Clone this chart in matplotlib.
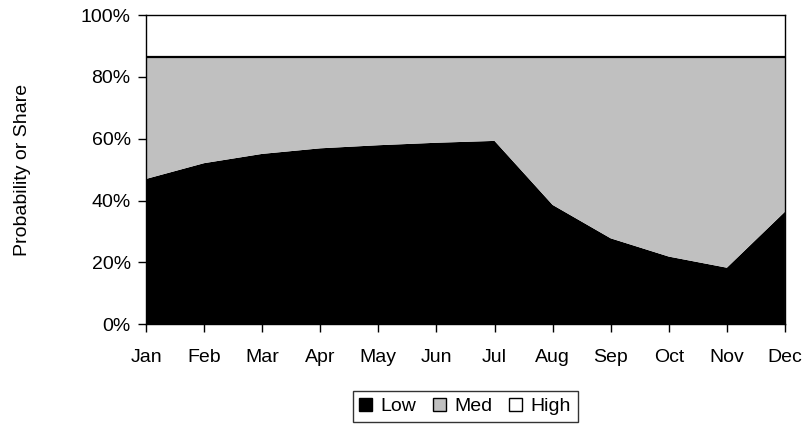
import matplotlib.pyplot as plt
import numpy as np
from matplotlib.patches import Patch
from matplotlib.ticker import PercentFormatter

plt.rcParams['font.family'] = ['Liberation Sans', 'DejaVu Sans']

months = ['Jan', 'Feb', 'Mar', 'Apr', 'May', 'Jun',
          'Jul', 'Aug', 'Sep', 'Oct', 'Nov', 'Dec']
low = [47.0, 52.1, 55.1, 56.9, 57.9, 58.7, 59.3, 38.6, 27.8, 21.9, 18.3, 36.4]
med = [39.4, 34.3, 31.3, 29.5, 28.5, 27.7, 27.1, 47.8, 58.6, 64.5, 68.1, 50.0]
high = [13.6] * 12

x = np.arange(len(months))
low = np.array(low)
med = np.array(med)
high = np.array(high)

fig = plt.figure(figsize=(8.09, 4.25), dpi=100)
ax = fig.add_axes([0.1805, 0.2369, 0.7898, 0.7278])

ax.stackplot(x, low, med, high, colors=['black', '#c0c0c0', 'white'],
             linewidth=0)
ax.plot(x, low + med, color='black', lw=1.6)

ax.set_xlim(0, 11)
ax.set_ylim(0, 100)
ax.set_xticks(x)
ax.set_xticklabels(months)
ax.set_yticks(np.arange(0, 101, 20))
ax.yaxis.set_major_formatter(PercentFormatter(decimals=0))
ax.tick_params(axis='both', direction='out', length=6, width=1,
               labelsize=14, colors='black')
ax.tick_params(axis='y', pad=5)
ax.tick_params(axis='x', pad=12)
for s in ax.spines.values():
    s.set_linewidth(1)
    s.set_color('black')
    s.set_zorder(5)

ax.set_ylabel('Probability or Share', fontsize=14, labelpad=36)

handles = [Patch(facecolor='black', edgecolor='black', label='Low'),
           Patch(facecolor='#c0c0c0', edgecolor='black', label='Med'),
           Patch(facecolor='white', edgecolor='black', label='High')]
leg = fig.legend(handles=handles, loc='upper center', ncol=3,
                 bbox_to_anchor=(0.575, 0.08), fontsize=14,
                 frameon=True, fancybox=False, edgecolor='black',
                 handlelength=0.65, handleheight=0.65, handletextpad=0.45,
                 columnspacing=0.85, borderpad=0.35, borderaxespad=0)
leg.get_frame().set_linewidth(1)

fig.savefig('out.png', dpi=100)
